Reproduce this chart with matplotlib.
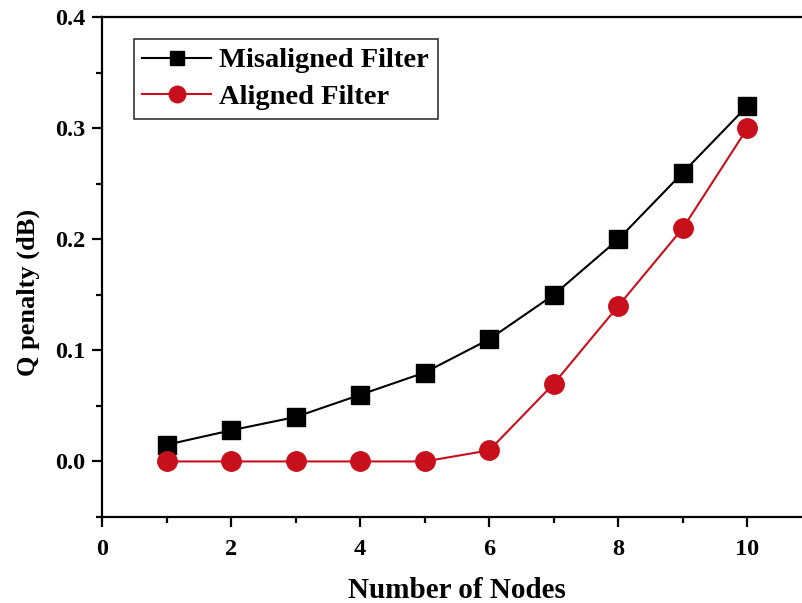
import matplotlib
matplotlib.use("Agg")
import matplotlib.pyplot as plt
from matplotlib.ticker import MultipleLocator

nodes = [1, 2, 3, 4, 5, 6, 7, 8, 9, 10]
misaligned = [0.015, 0.028, 0.040, 0.060, 0.080, 0.110, 0.150, 0.200, 0.260, 0.320]
aligned = [0.000, 0.000, 0.000, 0.000, 0.000, 0.010, 0.070, 0.140, 0.210, 0.300]

plt.rcParams['font.family'] = ['Liberation Serif', 'DejaVu Serif']
plt.rcParams['font.weight'] = 'bold'

fig = plt.figure(figsize=(8.03, 6.03), dpi=100)
W, H = 803, 603
x0, x1 = 102, 812
y0, y1 = 517, 17
ax = fig.add_axes([x0 / W, 1 - y0 / H, (x1 - x0) / W, (y0 - y1) / H])

ax.plot(nodes, misaligned, '-s', color='black', lw=1.5, ms=12.5,
        label='Misaligned Filter', zorder=3)
ax.plot(nodes, aligned, '-o', color='#c8101c', lw=1.5, ms=14,
        label='Aligned Filter', zorder=4)

ax.set_xlim(0, 11)
ax.set_ylim(-0.05, 0.4)
ax.xaxis.set_major_locator(MultipleLocator(2))
ax.xaxis.set_minor_locator(MultipleLocator(1))
ax.yaxis.set_major_locator(MultipleLocator(0.1))
ax.yaxis.set_minor_locator(MultipleLocator(0.05))
ax.set_xticks([0, 2, 4, 6, 8, 10])
ax.set_yticks([0.0, 0.1, 0.2, 0.3, 0.4])
ax.set_yticklabels(['0.0', '0.1', '0.2', '0.3', '0.4'])

for s in ax.spines.values():
    s.set_linewidth(1.6)
ax.tick_params(which='major', direction='out', length=7, width=1.6,
               labelsize=17.5)
ax.tick_params(axis='x', which='major', pad=9)
ax.tick_params(axis='y', which='major', pad=5)
ax.tick_params(which='minor', direction='out', length=4, width=1.6)
for lab in ax.get_xticklabels() + ax.get_yticklabels():
    lab.set_fontweight('bold')

ax.set_xlabel('Number of Nodes', fontsize=21, fontweight='bold', labelpad=12)
ax.set_ylabel('Q penalty (dB)', fontsize=19, fontweight='bold')
ax.yaxis.set_label_coords(-0.088, 0.45)

leg = ax.legend(loc='upper left', bbox_to_anchor=(0.045, 0.956),
                prop={'size': 20.5, 'weight': 'bold'}, frameon=True,
                fancybox=False, edgecolor='black', handlelength=2.4,
                borderpad=0.3, labelspacing=0.38, handletextpad=0.3,
                borderaxespad=0.0, markerscale=0.85)
leg.get_frame().set_linewidth(1.2)

fig.savefig('out.png', dpi=100)
